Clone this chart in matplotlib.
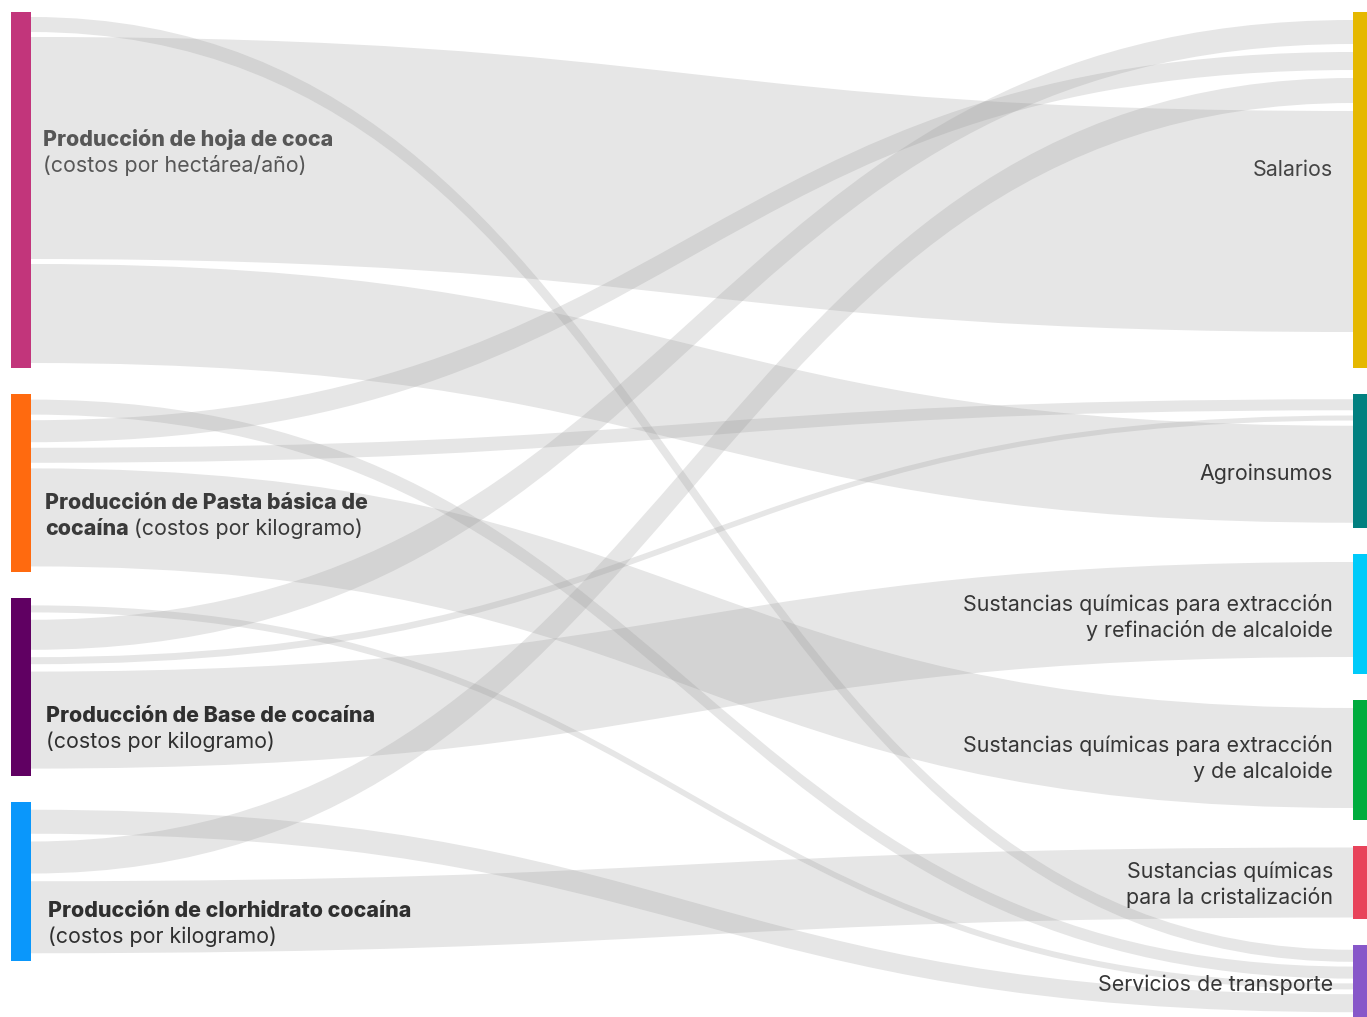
import matplotlib
matplotlib.use("Agg")
import matplotlib.pyplot as plt
from matplotlib.path import Path
from matplotlib.patches import PathPatch, Rectangle

plt.rcParams['font.family'] = ['Inter', 'DejaVu Sans']

# ---- data (node heights and link widths in chart units) ----
left_names = ["hoja", "pasta", "base", "clor"]
left_values = [356, 178, 178, 159]
left_colors = ["#C2357B", "#FF6A0F", "#600062", "#0A97FB"]

right_names = ["salarios", "agro", "refin", "alcal", "crist", "transp"]
right_values = [356, 134, 120, 120, 73, 72]
right_colors = ["#E5B800", "#028080", "#00CBFA", "#00AC3E", "#E8435A", "#8757C9"]

# links in the order they leave each source node (top to bottom)
link_source = ["hoja", "hoja", "hoja",
               "pasta", "pasta", "pasta", "pasta",
               "base", "base", "base", "base",
               "clor", "clor", "clor"]
link_target = ["transp", "salarios", "agro",
               "transp", "salarios", "agro", "alcal",
               "transp", "salarios", "agro", "refin",
               "transp", "salarios", "crist"]
width_at_source = [15, 222, 99, 15, 22, 15, 98, 7, 30, 7, 97, 24, 32, 72]
width_at_target = [12, 221, 97, 12, 18, 11, 100, 6, 24, 5, 95, 18, 25, 70]

# order in which links arrive at each target (top to bottom), by source
target_order = {
    "salarios": ["base", "pasta", "clor", "hoja"],
    "agro": ["pasta", "base", "hoja"],
    "refin": ["base"],
    "alcal": ["pasta"],
    "crist": ["clor"],
    "transp": ["hoja", "pasta", "base", "clor"],
}

left_labels = {
    "hoja": [[("Producción de hoja de coca", True)], [("(costos por hectárea/año)", False)]],
    "pasta": [[("Producción de Pasta básica de", True)],
              [("cocaína", True), ("(costos por kilogramo)", False)]],
    "base": [[("Producción de Base de cocaína", True)], [("(costos por kilogramo)", False)]],
    "clor": [[("Producción de clorhidrato cocaína", True)], [("(costos por kilogramo)", False)]],
}
right_labels = {
    "salarios": ["Salarios"],
    "agro": ["Agroinsumos"],
    "refin": ["Sustancias químicas para extracción", "y refinación de alcaloide"],
    "alcal": ["Sustancias químicas para extracción", "y de alcaloide"],
    "crist": ["Sustancias químicas", "para la cristalización"],
    "transp": ["Servicios de transporte"],
}

# ---- layout / style ----
W, H = 1367, 1017
TOP, PAD, GAP_MAX = 12, 26, 8
XL0, XL1 = 11, 31
XR0, XR1 = 1353, 1373
LINK_COLOR, LINK_ALPHA = "#979797", 0.24
FS = 15.4
left_dy = {"hoja": -44, "pasta": 26, "base": 35, "clor": 35.5}
left_dx = {"hoja": 43, "pasta": 45, "base": 46.5, "clor": 48}
left_color = {"hoja": "#575757", "pasta": "#3a3a3a", "base": "#2f2f2f", "clor": "#2f2f2f"}
right_dy = {"salarios": -14, "agro": 19, "refin": -3, "alcal": -8, "crist": -4.5, "transp": 10}
LINE = 26


def place_nodes(names, values):
    pos, y = {}, TOP
    for n, v in zip(names, values):
        pos[n] = (y, v)
        y += v + PAD
    return pos


def stack(top, size, widths):
    gap = min((size - sum(widths)) / (len(widths) + 1), GAP_MAX)
    y, out = top + gap, []
    for w in widths:
        out.append((y, y + w))
        y += w + gap
    return out


lpos = place_nodes(left_names, left_values)
rpos = place_nodes(right_names, right_values)

src_span = [None] * len(link_source)
for n in left_names:
    idx = [i for i, s in enumerate(link_source) if s == n]
    for i, sp in zip(idx, stack(*lpos[n], [width_at_source[i] for i in idx])):
        src_span[i] = sp

tgt_span = [None] * len(link_source)
for n in right_names:
    idx = [next(i for i in range(len(link_source))
                if link_source[i] == s and link_target[i] == n) for s in target_order[n]]
    for i, sp in zip(idx, stack(*rpos[n], [width_at_target[i] for i in idx])):
        tgt_span[i] = sp

fig = plt.figure(figsize=(W / 100, H / 100), dpi=100)
ax = fig.add_axes([0, 0, 1, 1])
ax.set_xlim(0, W)
ax.set_ylim(H, 0)
ax.axis("off")

xm = (XL1 + XR0) / 2
for (s0, s1), (t0, t1) in zip(src_span, tgt_span):
    verts = [(XL1, s0), (xm, s0), (xm, t0), (XR0, t0),
             (XR0, t1), (xm, t1), (xm, s1), (XL1, s1), (XL1, s0)]
    codes = [Path.MOVETO, Path.CURVE4, Path.CURVE4, Path.CURVE4,
             Path.LINETO, Path.CURVE4, Path.CURVE4, Path.CURVE4, Path.CLOSEPOLY]
    ax.add_patch(PathPatch(Path(verts, codes), facecolor=LINK_COLOR,
                           alpha=LINK_ALPHA, edgecolor="none", zorder=1))

for n, c in zip(left_names, left_colors):
    y, v = lpos[n]
    ax.add_patch(Rectangle((XL0, y), XL1 - XL0, v, color=c, zorder=2, lw=0))
for n, c in zip(right_names, right_colors):
    y, v = rpos[n]
    ax.add_patch(Rectangle((XR0, y), XR1 - XR0, v, color=c, zorder=2, lw=0))

renderer = fig.canvas.get_renderer()
for n in left_names:
    y, v = lpos[n]
    base = y + v / 2 + left_dy[n]
    for k, line in enumerate(left_labels[n]):
        x = left_dx[n]
        for txt, bold in line:
            t = ax.text(x, base + k * LINE, txt, fontsize=FS, va="baseline", ha="left",
                        fontweight="heavy" if bold else "normal",
                        color=left_color[n], zorder=3)
            x += t.get_window_extent(renderer).width + 5

for n in right_names:
    y, v = rpos[n]
    base = y + v / 2 + right_dy[n]
    for k, txt in enumerate(right_labels[n]):
        ax.text(1333, base + k * LINE, txt, fontsize=FS, va="baseline", ha="right",
                color="#444444" if n == "salarios" else "#363636", zorder=3)

fig.savefig("out.png", dpi=100)
